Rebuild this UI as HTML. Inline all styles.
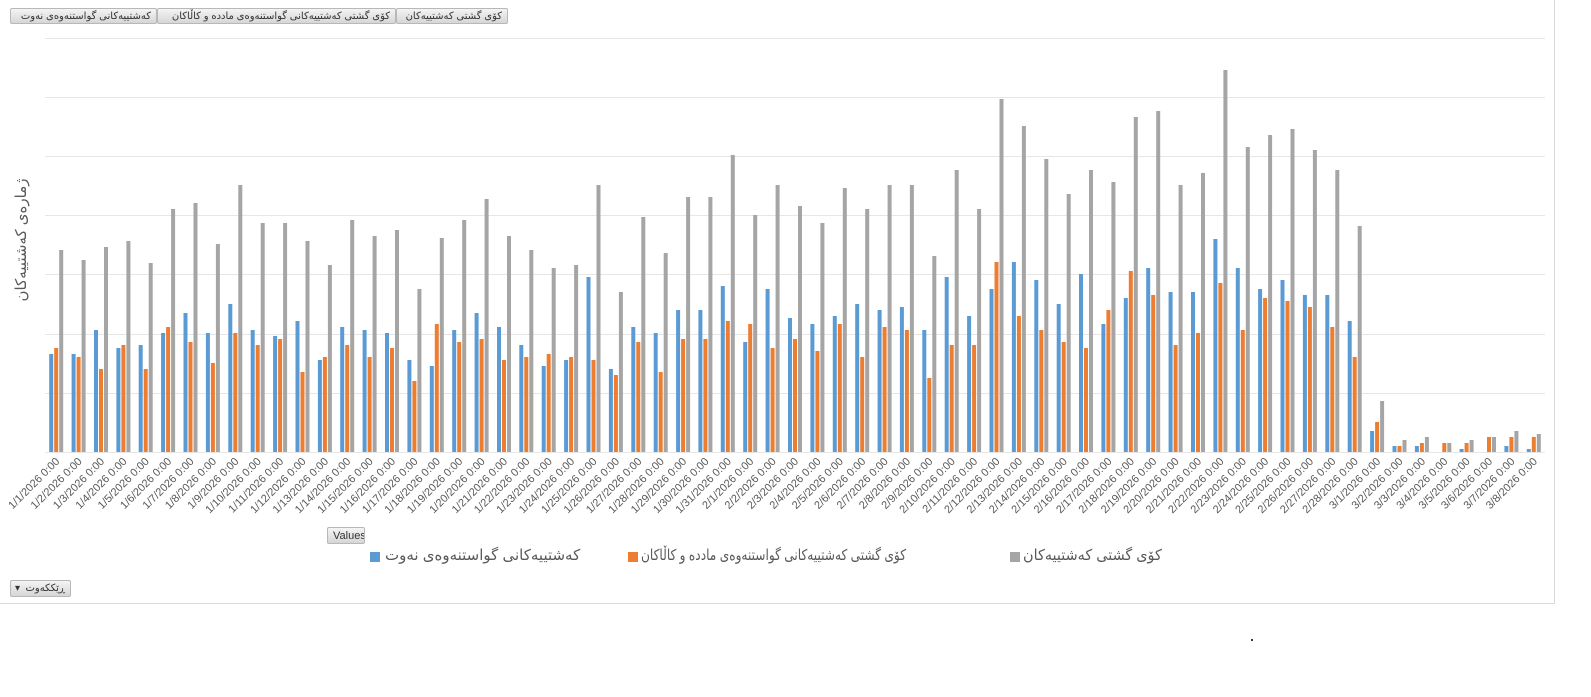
<!DOCTYPE html>
<html><head><meta charset="utf-8"><style>
body{margin:0;width:1591px;height:697px;background:#fff;position:relative;overflow:hidden;font-family:"Liberation Sans","DejaVu Sans",sans-serif}
.frame{position:absolute;left:0;top:0;width:1554px;height:603px;border:1px solid #d9d9d9;border-left:none;border-top:none}
.btn{position:absolute;height:16px;background:linear-gradient(#f4f4f4,#d6d6d6);border:1px solid #b8b8b8;border-radius:2px;font-size:10px;color:#333;line-height:16px;box-sizing:border-box;padding:0 5px;white-space:nowrap;overflow:hidden}
.leg{position:absolute;top:546px;font-size:15px;color:#595959;white-space:nowrap;transform-origin:0 0}
.sq{position:absolute;top:552px;width:10px;height:10px}
</style></head><body>
<div class="frame"></div>
<div class="btn" style="left:10px;top:8px;width:147px;text-align:right" dir="rtl">کەشتییەکانی گواستنەوەی نەوت</div>
<div class="btn" style="left:157px;top:8px;width:239px;text-align:right" dir="rtl">کۆی گشتی کەشتییەکانی گواستنەوەی مادده و کاڵاکان</div>
<div class="btn" style="left:396px;top:8px;width:112px;text-align:right" dir="rtl">کۆی گشتی کەشتییەکان</div>
<div class="btn" style="left:327px;top:527px;width:38px;height:17px;font-size:11px">Values</div>
<div class="btn" style="left:10px;top:580px;width:61px;height:17px;text-align:right;font-size:10px"><span style="position:absolute;left:4px">▾</span><span style="position:absolute;left:14px">·</span><span dir="rtl">ڕێککەوت</span></div>
<div class="sq" style="left:370px;background:#5b9bd5"></div>
<div class="leg" style="left:385px" dir="rtl">کەشتییەکانی گواستنەوەی نەوت</div>
<div class="sq" style="left:628px;background:#ed7d31"></div>
<div class="leg" style="left:641px;transform:scaleX(0.81)" dir="rtl">کۆی گشتی کەشتییەکانی گواستنەوەی مادده و کاڵاکان</div>
<div class="sq" style="left:1010px;background:#a5a5a5"></div>
<div class="leg" style="left:1023px;transform:scaleX(0.96)" dir="rtl">کۆی گشتی کەشتییەکان</div>
<div style="position:absolute;left:1251px;top:639px;width:2px;height:2px;background:#333"></div>
<svg width="1591" height="697" style="position:absolute;left:0;top:0" xmlns="http://www.w3.org/2000/svg">
<g stroke="#e6e6e6" stroke-width="1">
<line x1="45" x2="1545" y1="38.5" y2="38.5"/><line x1="45" x2="1545" y1="97.5" y2="97.5"/><line x1="45" x2="1545" y1="156.5" y2="156.5"/><line x1="45" x2="1545" y1="215.5" y2="215.5"/><line x1="45" x2="1545" y1="274.5" y2="274.5"/><line x1="45" x2="1545" y1="334.5" y2="334.5"/><line x1="45" x2="1545" y1="393.5" y2="393.5"/><line x1="45" x2="1545" y1="452.5" y2="452.5"/>
</g>
<g id="bars"></g>
<text transform="translate(26,240) rotate(-90)" text-anchor="middle" font-size="15" fill="#595959" font-family="Liberation Sans, DejaVu Sans, sans-serif" direction="rtl">ژمارەی کەشتییەکان</text>
<g id="labels" font-size="11" fill="#595959" text-anchor="end" font-family="Liberation Sans, sans-serif">
<text>1/1/2026 0:00</text><text>1/2/2026 0:00</text><text>1/3/2026 0:00</text><text>1/4/2026 0:00</text><text>1/5/2026 0:00</text><text>1/6/2026 0:00</text><text>1/7/2026 0:00</text><text>1/8/2026 0:00</text><text>1/9/2026 0:00</text><text>1/10/2026 0:00</text><text>1/11/2026 0:00</text><text>1/12/2026 0:00</text><text>1/13/2026 0:00</text><text>1/14/2026 0:00</text><text>1/15/2026 0:00</text><text>1/16/2026 0:00</text><text>1/17/2026 0:00</text><text>1/18/2026 0:00</text><text>1/19/2026 0:00</text><text>1/20/2026 0:00</text><text>1/21/2026 0:00</text><text>1/22/2026 0:00</text><text>1/23/2026 0:00</text><text>1/24/2026 0:00</text><text>1/25/2026 0:00</text><text>1/26/2026 0:00</text><text>1/27/2026 0:00</text><text>1/28/2026 0:00</text><text>1/29/2026 0:00</text><text>1/30/2026 0:00</text><text>1/31/2026 0:00</text>
<text>2/1/2026 0:00</text><text>2/2/2026 0:00</text><text>2/3/2026 0:00</text><text>2/4/2026 0:00</text><text>2/5/2026 0:00</text><text>2/6/2026 0:00</text><text>2/7/2026 0:00</text><text>2/8/2026 0:00</text><text>2/9/2026 0:00</text><text>2/10/2026 0:00</text><text>2/11/2026 0:00</text><text>2/12/2026 0:00</text><text>2/13/2026 0:00</text><text>2/14/2026 0:00</text><text>2/15/2026 0:00</text><text>2/16/2026 0:00</text><text>2/17/2026 0:00</text><text>2/18/2026 0:00</text><text>2/19/2026 0:00</text><text>2/20/2026 0:00</text><text>2/21/2026 0:00</text><text>2/22/2026 0:00</text><text>2/23/2026 0:00</text><text>2/24/2026 0:00</text><text>2/25/2026 0:00</text><text>2/26/2026 0:00</text><text>2/27/2026 0:00</text><text>2/28/2026 0:00</text>
<text>3/1/2026 0:00</text><text>3/2/2026 0:00</text><text>3/3/2026 0:00</text><text>3/4/2026 0:00</text><text>3/5/2026 0:00</text><text>3/6/2026 0:00</text><text>3/7/2026 0:00</text><text>3/8/2026 0:00</text>
</g>
</svg>
<script>
var d=[[354,348,250],[354,357,260],[330,369,247],[348,345,241],[345,369,263],[333,327,209],[313,342,203],[333,363,244],[304,333,185],[330,345,223],[336,339,223],[321,372,241],[360,357,265],[327,345,220],[330,357,236],[333,348,230],[360,381,289],[366,324,238],[330,342,220],[313,339,199],[327,360,236],[345,357,250],[366,354,268],[360,357,265],[277,360,185],[369,375,292],[327,342,217],[333,372,253],[310,339,197],[310,339,197],[286,321,155],
[342,324,215],[289,348,185],[318,339,206],[324,351,223],[316,324,188],[304,357,209],[310,327,185],[307,330,185],[330,378,256],[277,345,170],[316,345,209],[289,262,99],[262,316,126],[280,330,159],[304,342,194],[274,348,170],[324,310,182],[298,271,117],[268,295,111],[292,345,185],[292,333,173],[239,283,70],[268,330,147],[289,298,135],[280,301,129],[295,307,150],[295,327,170],[321,357,226],
[431,422,401],[446,446,440],[446,443,437],[452,443,443],[449,443,440],[452,437,437],[446,437,431],[449,437,434]];
var cols=["#5b9bd5","#ed7d31","#a5a5a5"],s="",w=1500/67;
d.forEach(function(r,i){var c=45+w*(i+0.5);r.forEach(function(y,j){if(y<452)s+='<rect x="'+(c-7+j*5).toFixed(1)+'" y="'+y+'" width="4" height="'+(452-y)+'" fill="'+cols[j]+'"/>';});});
document.getElementById("bars").innerHTML=s;
var t=document.querySelectorAll("#labels text");
t.forEach(function(e,i){var c=45+w*(i+0.5)+4;e.setAttribute("transform","translate("+c.toFixed(1)+",462) rotate(-45)");});
</script>
</body></html>
